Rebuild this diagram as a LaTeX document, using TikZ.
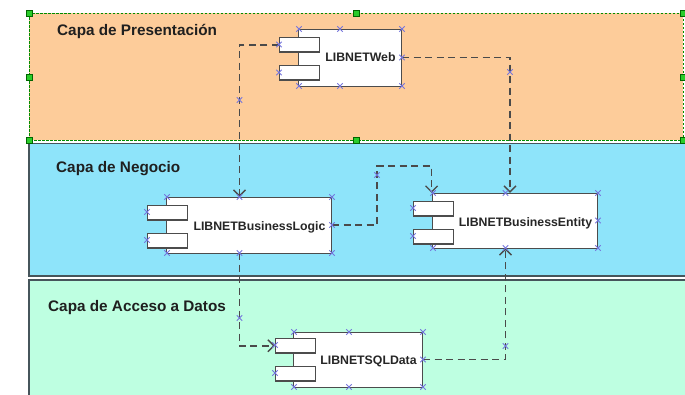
\documentclass[tikz,border=0pt]{standalone}
\usepackage{fontspec}
\setmainfont{Liberation Sans}
\usetikzlibrary{arrows.meta,shapes.misc,calc}
\definecolor{presfill}{HTML}{FDCC9A}
\definecolor{negfill}{HTML}{8EE4FA}
\definecolor{accfill}{HTML}{BEFFE1}
\definecolor{edgec}{HTML}{4A4A4A}
\definecolor{markc}{HTML}{7474DC}
\definecolor{handc}{HTML}{2ACC2A}
\definecolor{layerline}{HTML}{46555B}
\definecolor{boxline}{HTML}{4C4C4C}
\begin{document}
\begin{tikzpicture}[x=1pt,y=-1pt,
  outer/.style={rectangle,inner sep=0pt,draw=none},
  compbox/.style={rectangle,inner sep=0pt,fill=white,draw=boxline,line width=1.6pt},
  port/.style={rectangle,inner sep=0pt,fill=white,draw=boxline,line width=1.4pt,minimum width=40pt,minimum height=14.5pt},
  lbl/.style={inner sep=0pt,text=black!85,font=\fontsize{12.3}{14}\selectfont\bfseries},
  title/.style={inner sep=0pt,anchor=base west,text=black!88,font=\fontsize{15.3}{18}\selectfont\bfseries},
  dep/.style={draw=edgec,line width=1.5pt,dash pattern=on 7pt off 4.5pt,-{Straight Barb[length=6pt,width=12pt,line width=1.3pt]}},
  mk/.style={cross out,draw=markc,line width=0.9pt,minimum size=4.5pt,inner sep=0pt},
  hd/.style={rectangle,fill=handc,draw=black!60!green,line width=0.6pt,minimum size=6pt,inner sep=0pt}]
\useasboundingbox (0,0) rectangle (685,394);
\clip (0,0) rectangle (685,394);
\fill[white] (0,0) rectangle (685,394);
% layers
\fill[presfill] (29,13) rectangle (683,140);
\draw[black!45!green,line width=1pt,dash pattern=on 2.5pt off 1.5pt] (29,13) rectangle (683,140);
\draw[fill=negfill,draw=layerline,line width=1.3pt] (29,143.5) rectangle (700,276);
\draw[fill=accfill,draw=layerline,line width=1.3pt] (29,280) rectangle (700,410);
\node[title] (tPres) at (57,35) {Capa de Presentación};
\node[title] (tNeg) at (56,172.5) {Capa de Negocio};
\node[title] (tAcc) at (48,311.5) {Capa de Acceso a Datos};
% components
\node[outer,minimum width=123pt,minimum height=57pt] (web) at (340.5,57.5) {};
\node[compbox,anchor=north east,minimum width=103pt,minimum height=57pt] (webBox) at (web.north east) {};
\node[port,anchor=north west] (web1) at ($(web.north west)+(0,8)$) {};
\node[port,anchor=north west] (web2) at ($(web.north west)+(0,36)$) {};
\node[lbl,anchor=base] (webT) at (360.5,61.5) {LIBNETWeb};

\node[outer,minimum width=185pt,minimum height=56pt] (bl) at (239.5,225) {};
\node[compbox,anchor=north east,minimum width=165pt,minimum height=56pt] (blBox) at (bl.north east) {};
\node[port,anchor=north west] (bl1) at ($(bl.north west)+(0,8)$) {};
\node[port,anchor=north west] (bl2) at ($(bl.north west)+(0,36)$) {};
\node[lbl,anchor=base] (blT) at (259.5,230) {LIBNETBusinessLogic};

\node[outer,minimum width=185pt,minimum height=55pt] (be) at (505.5,220.5) {};
\node[compbox,anchor=north east,minimum width=165pt,minimum height=55pt] (beBox) at (be.north east) {};
\node[port,anchor=north west] (be1) at ($(be.north west)+(0,8)$) {};
\node[port,anchor=north west] (be2) at ($(be.north west)+(0,36)$) {};
\node[lbl,anchor=base] (beT) at (525.5,226) {LIBNETBusinessEntity};

\node[outer,minimum width=148pt,minimum height=55pt] (sql) at (349,359.5) {};
\node[compbox,anchor=north east,minimum width=129pt,minimum height=55pt] (sqlBox) at (sql.north east) {};
\node[port,anchor=north west] (sql1) at ($(sql.north west)+(0,6)$) {};
\node[port,anchor=north west] (sql2) at ($(sql.north west)+(0,34)$) {};
\node[lbl,anchor=base] (sqlT) at (368.5,364) {LIBNETSQLData};
% connectors
\coordinate (beTop) at ($(be.north)+(4.5,0)$);
\coordinate (jog) at (377,166);
\draw[dep] (web1.west) -| (bl.north);
\draw[dep] (web.east) -| (beTop);
\draw[dep] (bl.east) -| (jog) -| (beBox.north west);
\draw[dep] (bl.south) |- (sql1.west);
\draw[dep] (sql.east) -| (be.south);
% selection markers
\foreach \p [count=\i] in {(299,29),(340,29),(402,29),(402,57.5),(402,86),(340,86),(299,86),(279,44.5),(279,72.5),
  (167,197),(239.5,197),(332,197),(332,225),(332,253),(239.5,253),(167,253),(147,212),(147,240),
  (433,193),(505.5,193),(598,193),(598,220.5),(598,248),(505.5,248),(433,248),(413,208),(413,236),
  (294,332),(349,332),(423,332),(423,359.5),(423,387),(349,387),(294,387),(275,345),(275,373),
  (239.5,100),(510,72),(377,175),(239.5,318),(505.5,346)}
  \node[mk] (mk\i) at \p {};
% selection handles
\foreach \p [count=\i] in {(29,13),(356,13),(683,13),(29,77),(683,77),(29,140),(356,140),(683,140)}
  \node[hd] (hd\i) at \p {};
\end{tikzpicture}
\end{document}
